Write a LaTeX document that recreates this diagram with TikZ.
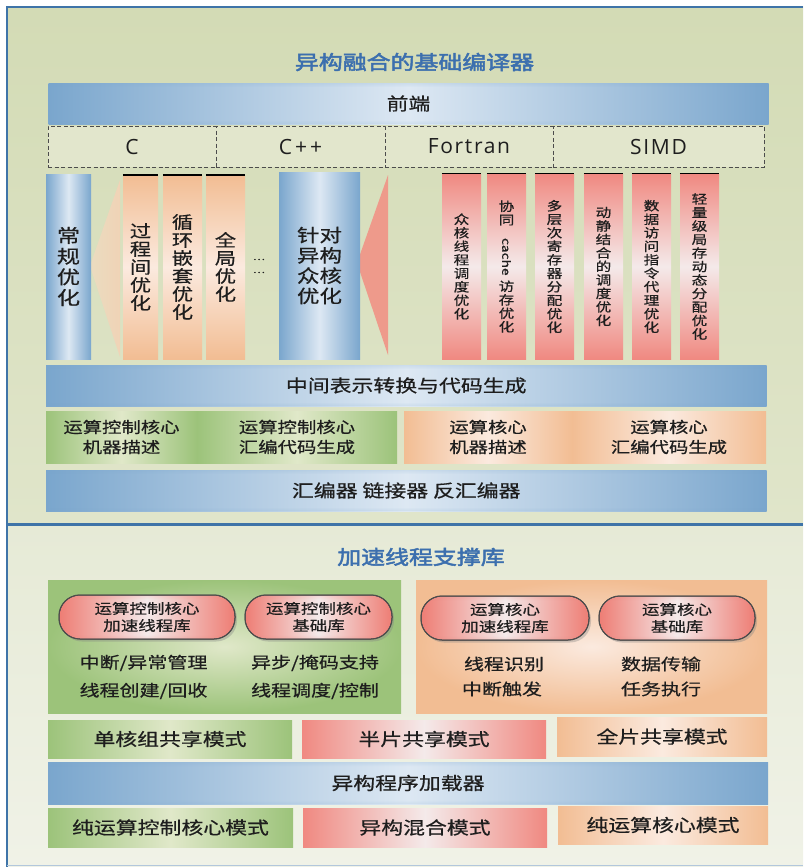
\documentclass[tikz,border=0pt]{standalone}
\usepackage{fontspec}
\setmainfont{Noto Sans CJK SC}[FakeStretch=1.25,FakeBold=0.6]
\newfontfamily\titlefont{Noto Sans CJK SC}[FakeStretch=1.22,FakeBold=2.5]
\newfontfamily\latinfont{Open Sans}[LetterSpace=8]
\usetikzlibrary{shadows,fadings}
\newcommand\setfs[2]{\fontsize{#1}{#2}\selectfont}
\definecolor{frameblue}{HTML}{3F74A8}
\definecolor{titleblue}{HTML}{3C6FAE}
\definecolor{bB}{HTML}{7AA6CD}
\definecolor{bL}{HTML}{DDE8F3}
\definecolor{gE}{HTML}{9CC37A}
\definecolor{gC}{HTML}{E0E8C9}
\definecolor{pE}{HTML}{F2BD93}
\definecolor{pC}{HTML}{FBEADF}
\definecolor{rE}{HTML}{F08981}
\definecolor{rC}{HTML}{F4EAEA}
\definecolor{rP}{HTML}{EE7D74}
\definecolor{panelA}{HTML}{D3DBB5}
\definecolor{panelB}{HTML}{E0E5CA}
\definecolor{panelC}{HTML}{E6EAD6}
\definecolor{panelD}{HTML}{F0F2E7}
\definecolor{dashfill}{HTML}{E2E6CC}
\definecolor{ink}{HTML}{1E1E1E}
\definecolor{triP}{HTML}{F0D3B6}
\definecolor{triPl}{HTML}{EADCC0}
\definecolor{triR}{HTML}{EE9A8B}
\pgfdeclareverticalshading{bandbarsh}{100bp}{color(0bp)=(white); color(30bp)=(black); color(70bp)=(black); color(100bp)=(white)}
\pgfdeclarefading{barband}{\pgfuseshading{bandbarsh}}
\pgfdeclareverticalshading{bandcolsh}{100bp}{color(0bp)=(white); color(14bp)=(black); color(86bp)=(black); color(100bp)=(white)}
\pgfdeclarefading{colband}{\pgfuseshading{bandcolsh}}
\begin{document}
\begin{tikzpicture}[x=1pt,y=-1pt,
  every node/.style={inner sep=0pt, text=ink},
  bar/.style={left color=bB, right color=bB, middle color=bL,
    postaction={fill=bB, path fading=barband, fit fading=true},
    font=\setfs{17.5}{20}},
  bcol/.style={left color=bB, right color=bB, middle color=bL,
    postaction={fill=bB, path fading=colband, fit fading=true}, align=center},
  pcol/.style={top color=pE, bottom color=pE, middle color=pC, align=center,
    minimum height=184pt, font=\setfs{17}{18}},
  rcol/.style={top color=rE, bottom color=rE, middle color=rC, align=center,
    minimum width=39pt, minimum height=185pt, font=\setfs{12.5}{13.5}},
  gh/.style={left color=gE, right color=gE, middle color=gC},
  ph/.style={left color=pE, right color=pE, middle color=pC},
  rh/.style={left color=rE, right color=rE, middle color=rC},
  lang/.style={draw=black!70, dash pattern=on 4pt off 2.5pt, line width=1pt,
    fill=dashfill, minimum height=41pt, font=\latinfont\setfs{21}{22}},
  rowbox/.style={minimum height=52pt, align=center, font=\setfs{15.5}{20}},
  modebox/.style={font=\setfs{17.5}{20}},
  pill/.style={rounded corners=21pt, draw=black!70, line width=1pt,
    left color=rP, right color=rP, middle color=rC,
    drop shadow={opacity=.35, shadow xshift=2pt, shadow yshift=-2.5pt},
    postaction={fill=rP, path fading=barband, fit fading=true},
    postaction={draw=black!70, line width=1pt},
    minimum height=44pt, align=center, font=\setfs{14}{17}},
  item/.style={font=\setfs{16}{18}},
  ttl/.style={font=\titlefont\setfs{19.6}{22}, text=titleblue}]
\useasboundingbox (0,0) rectangle (803,867);
% backgrounds
\fill[white] (0,0) rectangle (803,867);
\shade[top color=panelA, bottom color=panelB] (7,7) rectangle (803,524);
\shade[top color=panelC, bottom color=panelD] (7,524) rectangle (803,866);
\draw[frameblue, line width=2.5pt] (7,867) -- (7,7) -- (803,7);
\draw[frameblue, line width=3pt] (7,524.5) -- (803,524.5);
\draw[frameblue!40, line width=1.5pt] (7,865.5) -- (803,865.5);

% ---------- upper part ----------
\node[ttl] (t1) at (414.5,62) {异构融合的基础编译器};
\node[bar, minimum width=720pt, minimum height=41pt] (fe) at (408.5,103.5) {前端};

\node[lang, minimum width=168pt] (lc) at (132,146.5) {C};
\node[lang, minimum width=169pt] (lcpp) at (300.5,146.5) {C\kern3pt+\kern3pt+};
\node[lang, minimum width=168pt] (lf) at (469,146.5) {Fortran};
\node[lang, minimum width=211pt] (ls) at (658.5,146.5) {SIMD};

% triangles
\shade[left color=triPl, right color=triP] (90,266) -- (120,180) -- (120,357) -- cycle;
\fill[triR] (357,263) -- (388,175) -- (388,355) -- cycle;

\node[bcol, minimum width=45pt, minimum height=185pt, font=\setfs{18.5}{20.7}]
  (reg) at (68.5,266.5) {常\\规\\优\\化};
\node[pcol, minimum width=35pt] (pc1) at (140.5,267) {过\\程\\间\\优\\化};
\node[pcol, minimum width=39pt] (pc2) at (182.5,267) {循\\环\\嵌\\套\\优\\化};
\node[pcol, minimum width=39pt] (pc3) at (225.5,267) {全\\局\\优\\化};
\node[font=\setfs{9}{13}, align=center] (dots) at (259,266) {…\\…};
\node[bcol, minimum width=81pt, minimum height=187pt, font=\setfs{18}{20.3}]
  (het) at (319.5,265.5) {针对\\异构\\众核\\优化};

\node[rcol] (rc1) at (461.5,266.5) {众\\核\\线\\程\\调\\度\\优\\化};
\node[rcol] (rc2) at (506.5,266.5) {协\\同\\\rotatebox{-90}{\setfs{11}{11}cache}\\[4pt]访\\存\\优\\化};
\node[rcol] (rc3) at (554.5,266.5) {多\\层\\次\\寄\\存\\器\\分\\配\\优\\化};
\node[rcol] (rc4) at (603.5,266.5) {动\\静\\结\\合\\的\\调\\度\\优\\化};
\node[rcol] (rc5) at (651.5,266.5) {数\\据\\访\\问\\指\\令\\代\\理\\优\\化};
\node[rcol] (rc6) at (699.5,266.5) {轻\\量\\级\\局\\存\\动\\态\\分\\配\\优\\化};
\foreach \n in {pc1,pc2,pc3}
  \draw[line width=1.5pt] (\n.north west) -- (\n.north east);
\foreach \n in {rc1,rc2,rc3,rc4,rc5,rc6}
  \draw[line width=1pt] (\n.north west) -- (\n.north east);

\node[bar, minimum width=720.5pt, minimum height=41pt] (ir) at (406.25,385.5) {中间表示转换与代码生成};

\node[rowbox, gh, minimum width=151pt] (ga) at (121.5,437) {运算控制核心\\机器描述};
\node[rowbox, gh, minimum width=200pt] (gb) at (297,437) {运算控制核心\\汇编代码生成};
\node[rowbox, ph, minimum width=168pt] (pa) at (488,437) {运算核心\\机器描述};
\node[rowbox, ph, minimum width=194pt] (pb) at (669,437) {运算核心\\汇编代码生成};

\node[bar, minimum width=720.5pt, minimum height=41pt] (asm) at (406.25,490.5) {汇编器 链接器 反汇编器};

% ---------- lower part ----------
\node[ttl] (t2) at (421,557) {加速线程支撑库};
\node[shading=radial, inner color=gC, outer color=gE, minimum width=353pt, minimum height=133pt] (gbig) at (224.5,646.5) {};
\node[shading=radial, inner color=pC, outer color=pE, minimum width=351pt, minimum height=133pt] (pbig) at (591.5,646.5) {};

\node[pill, minimum width=176pt] (gp1) at (147,617) {运算控制核心\\加速线程库};
\node[pill, minimum width=147pt] (gp2) at (318.5,617) {运算控制核心\\基础库};
\node[pill, minimum width=168pt] (pp1) at (505,618) {运算核心\\加速线程库};
\node[pill, minimum width=156pt] (pp2) at (677,618) {运算核心\\基础库};

\node[item] (i1) at (143.5,663) {中断/异常管理};
\node[item] (i2) at (143.5,691) {线程创建/回收};
\node[item] (i3) at (315,663) {异步/掩码支持};
\node[item] (i4) at (315,691) {线程调度/控制};
\node[item] (i5) at (504,664) {线程识别};
\node[item] (i6) at (502,689) {中断触发};
\node[item] (i7) at (661,664) {数据传输};
\node[item] (i8) at (661,689) {任务执行};

\node[modebox, gh, minimum width=244pt, minimum height=38pt] (m1) at (170,739) {单核组共享模式};
\node[modebox, rh, minimum width=244pt, minimum height=38pt] (m2) at (424,739) {半片共享模式};
\node[modebox, ph, minimum width=210pt, minimum height=39pt] (m3) at (662,736.5) {全片共享模式};
\node[bar, minimum width=720pt, minimum height=42pt] (ld) at (408,783) {异构程序加载器};
\node[modebox, gh, minimum width=245pt, minimum height=39pt] (m4) at (170.5,827.5) {纯运算控制核心模式};
\node[modebox, rh, minimum width=244pt, minimum height=39pt] (m5) at (425,827.5) {异构混合模式};
\node[modebox, ph, minimum width=210pt, minimum height=38pt] (m6) at (663,825) {纯运算核心模式};
\end{tikzpicture}
\end{document}
